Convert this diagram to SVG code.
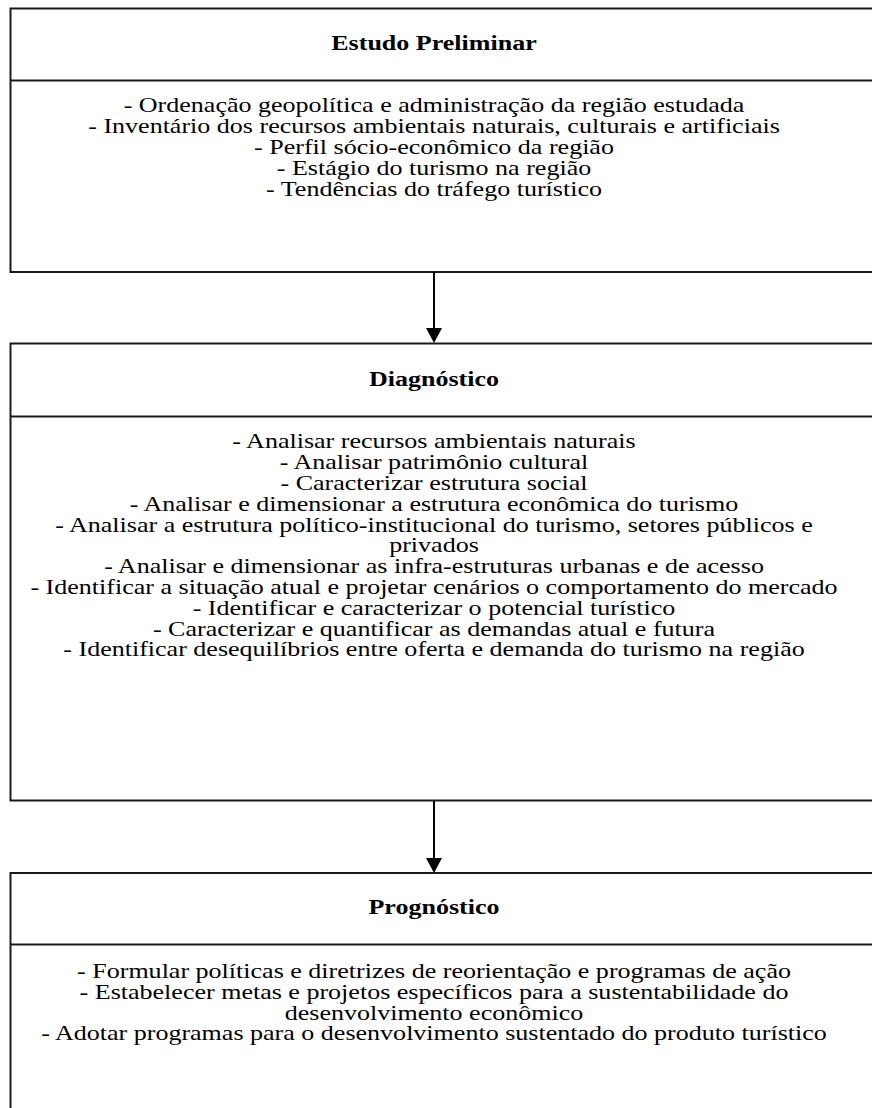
<svg xmlns="http://www.w3.org/2000/svg" width="872" height="1108" viewBox="0 0 872 1108">
  <style>
    .box { fill: #ffffff; stroke: #1a1a1a; stroke-width: 2; }
    .rule { stroke: #1a1a1a; stroke-width: 2; }
    .link { stroke: #000000; stroke-width: 2; fill: none; }
    .head { fill: #000000; }
    text { font-family: "Liberation Serif", "Times New Roman", serif; font-size: 21px; fill: #000000; text-anchor: middle; }
    .title { font-weight: bold; }
  </style>
  <rect width="872" height="1108" fill="#ffffff"/>

  <!-- Stage 1 -->
  <g id="estudo-preliminar">
    <rect class="box" x="10.5" y="8.5" width="900" height="263.5"/>
    <line class="rule" x1="10.5" y1="80.5" x2="910" y2="80.5"/>
    <g transform="translate(434 0) scale(1.24 1)">
      <text class="title" x="0" y="50.5">Estudo Preliminar</text>
      <text x="0" y="112.5">- Ordenação geopolítica e administração da região estudada</text>
      <text x="0" y="133.3">- Inventário dos recursos ambientais naturais, culturais e artificiais</text>
      <text x="0" y="154.1">- Perfil sócio-econômico da região</text>
      <text x="0" y="174.9">- Estágio do turismo na região</text>
      <text x="0" y="195.7">- Tendências do tráfego turístico</text>
    </g>
  </g>

  <!-- Stage 2 -->
  <g id="diagnostico">
    <rect class="box" x="10.5" y="343.5" width="900" height="457"/>
    <line class="rule" x1="10.5" y1="416.5" x2="910" y2="416.5"/>
    <g transform="translate(434 0) scale(1.24 1)">
      <text class="title" x="0" y="386.5">Diagnóstico</text>
      <text x="0" y="448.5">- Analisar recursos ambientais naturais</text>
      <text x="0" y="469.3">- Analisar patrimônio cultural</text>
      <text x="0" y="490.1">- Caracterizar estrutura social</text>
      <text x="0" y="510.9">- Analisar e dimensionar a estrutura econômica do turismo</text>
      <text x="0" y="531.7">- Analisar a estrutura político-institucional do turismo, setores públicos e</text>
      <text x="0" y="552.5">privados</text>
      <text x="0" y="573.3">- Analisar e dimensionar as infra-estruturas urbanas e de acesso</text>
      <text x="0" y="594.1">- Identificar a situação atual e projetar cenários o comportamento do mercado</text>
      <text x="0" y="614.9">- Identificar e caracterizar o potencial turístico</text>
      <text x="0" y="635.7">- Caracterizar e quantificar as demandas atual e futura</text>
      <text x="0" y="656.5">- Identificar desequilíbrios entre oferta e demanda do turismo na região</text>
    </g>
  </g>

  <!-- Stage 3 -->
  <g id="prognostico">
    <rect class="box" x="10.5" y="873" width="900" height="260"/>
    <line class="rule" x1="10.5" y1="944.5" x2="910" y2="944.5"/>
    <g transform="translate(434 0) scale(1.24 1)">
      <text class="title" x="0" y="914.5">Prognóstico</text>
      <text x="0" y="978">- Formular políticas e diretrizes de reorientação e programas de ação</text>
      <text x="0" y="998.8">- Estabelecer metas e projetos específicos para a sustentabilidade do</text>
      <text x="0" y="1019.6">desenvolvimento econômico</text>
      <text x="0" y="1040.4">- Adotar programas para o desenvolvimento sustentado do produto turístico</text>
    </g>
  </g>

  <!-- Connectors -->
  <g id="connectors">
    <line class="link" x1="434" y1="272" x2="434" y2="330"/>
    <polygon class="head" points="426,328 442,328 434,343"/>
    <line class="link" x1="434" y1="801" x2="434" y2="860"/>
    <polygon class="head" points="426,858 442,858 434,873"/>
  </g>
</svg>
